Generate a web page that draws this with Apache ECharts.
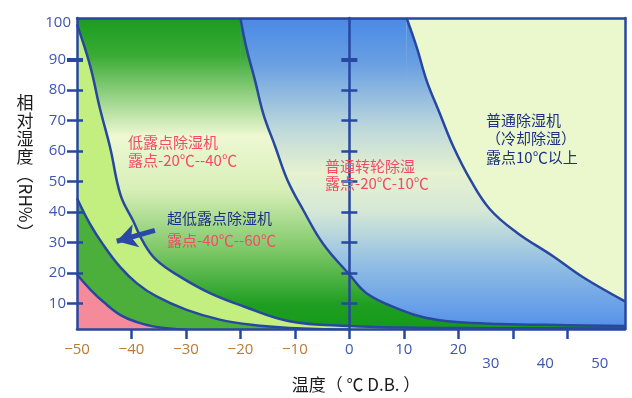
<!DOCTYPE html>
<html>
<head>
<meta charset="utf-8">
<script src="https://cdn.jsdelivr.net/npm/echarts@6/dist/echarts.min.js"></script>
<style>
  html, body { margin: 0; padding: 0; background: #fff; }
  #chart { width: 632px; height: 398px; }
</style>
</head>
<body>
<div id="chart"></div>
<script>
// 坐标范围
const X_MIN = -50, X_MAX = 50.6;
const Y_MIN = 1.6, Y_MAX = 103.6;

// 刻度
const X_LABELS = [-50, -40, -30, -20, -10, 0, 10, 20, 30, 40, 50];
const X_TICKS = [-40, -30, -20, -10, 0, 10, 20, 30, 40];
const Y_LABELS = [10, 20, 30, 40, 50, 60, 70, 80, 90, 100];
const Y_TICKS = [10, 20, 30, 40, 50, 60, 70, 80];
const Y_BOLD = [90];

// 各区域边界曲线 [温度, 相对湿度]
const CURVE_PINK = [[-50, 19.5], [-47.5, 14.5], [-45, 10.3], [-42, 6.2], [-39, 3.9], [-36, 2.5], [-33, 1.8], [-30, 1.4]];
const CURVE_DARK = [[-50, 44.5], [-47.6, 36], [-45.2, 29.3], [-42.1, 22], [-39, 16.6], [-35.4, 12.3], [-30, 8], [-23.8, 4.7], [-18, 3.0], [-11, 2.0], [0, 1.4]];
const CURVE_LIGHT = [[-50, 101.5], [-47.6, 88], [-45.8, 74], [-43.9, 61], [-42, 45.5], [-39.7, 37.1], [-37.8, 30], [-35.4, 24.2], [-31.1, 18.8], [-25.6, 13.4], [-19.5, 9.1], [-11, 4.2], [0, 2.6], [10, 2.1], [25, 1.9], [50.6, 1.8]];
const CURVE_GREEN = [[-20, 103.6], [-18.9, 93.8], [-17.3, 83], [-15.8, 72.2], [-13.6, 61.4], [-11.4, 50.6], [-8.4, 40.4], [-4.8, 29.5], [0, 19.5], [3.2, 13.3], [9.3, 8], [14, 5.3], [19.7, 3.9], [27.6, 3.3], [40, 2.9], [50.6, 2.6]];
const CURVE_BLUE = [[10.5, 103.6], [12.4, 93.8], [14.2, 83], [16.6, 72.3], [19.1, 61.4], [22.2, 50.6], [25.8, 40.9], [30.7, 33.3], [37.4, 25.5], [42.9, 18.6], [50.6, 10.7]];

// 箭头（超低露点）
const ARROW = [[-35.7, 34], [-42.7, 30.4]];

const LINE = '#2747a0';
const RED = '#f44a6a';
const NAVY = '#1d3082';
const CJK = '"Noto Sans CJK SC"';

const grad = stops => new echarts.graphic.LinearGradient(0, 0, 0, 1,
  stops.map(s => ({ offset: s[0], color: s[1] })));

const BLUE_FILL = grad([[0, '#4a89e6'], [0.15, '#6aa0e2'], [0.35, '#bcd7dc'], [0.5, '#e6f2d0'], [0.62, '#d5e8d6'], [0.8, '#8ebce4'], [1, '#5490ea']]);
const GREEN_FILL = grad([[0, '#1a9c1f'], [0.12, '#3aab35'], [0.38, '#eef8d2'], [0.55, '#d8efb8'], [0.75, '#7cc766'], [0.92, '#1f9e22'], [1, '#159a18']]);

function region(name, data, color) {
  return {
    name, type: 'line', data,
    smooth: 0.4,
    showSymbol: false, symbol: 'none', clip: true, silent: true,
    lineStyle: { color: LINE, width: 2.5 },
    areaStyle: { color, opacity: 1, origin: 'start' }
  };
}

// 曲线左侧到顶边的部分（不描边，稍微伸进曲线下方以免接缝）
function topBlock(name, curve, color) {
  const x0 = curve[0][0];
  return {
    name, type: 'line', data: [[X_MIN, Y_MAX], [x0, Y_MAX], [x0 + 0.4, Y_MIN]],
    showSymbol: false, symbol: 'none', clip: true, silent: true,
    lineStyle: { width: 0 },
    areaStyle: { color, opacity: 1, origin: 'start' }
  };
}

// 纵轴刻度（左边框和 0℃ 轴两侧）
function tickAxis(onZero, inside, length, values, width) {
  return {
    type: 'value', min: Y_MIN, max: Y_MAX, position: 'left', z: 10,
    axisLine: onZero ? { show: false, onZero: true, onZeroAxisIndex: 0 } : { show: false, onZero: false },
    axisTick: { show: true, inside, length, customValues: values, lineStyle: { color: LINE, width } },
    axisLabel: { show: false },
    splitLine: { show: false }
  };
}

const chart = echarts.init(document.getElementById('chart'));
chart.setOption({
  animation: false,
  textStyle: { fontFamily: '"Open Sans", sans-serif' },
  grid: { left: 77, right: 7, top: 18, bottom: 65, show: true, backgroundColor: '#ebf7cd', borderWidth: 0 },
  xAxis: [{
    type: 'value', min: X_MIN, max: X_MAX, position: 'bottom', z: 10,
    axisLine: { onZero: false, lineStyle: { color: LINE, width: 2.5 } },
    axisTick: { show: true, length: 10, customValues: X_TICKS, lineStyle: { color: LINE, width: 2.5 } },
    splitLine: { show: false },
    axisLabel: {
      customValues: X_LABELS, margin: 13,
      formatter: v => v < 0 ? '{n|−' + Math.abs(v) + '}' : (v >= 30 ? '{f|' + v + '}' : '{p|' + v + '}'),
      rich: {
        n: { color: '#b67a38', fontSize: 15, fontFamily: '"Open Sans"' },
        p: { color: '#3d56b0', fontSize: 15, fontFamily: '"Open Sans"' },
        f: { color: '#3d56b0', fontSize: 15, fontFamily: '"Open Sans"', padding: [14, 44, 0, 0] }
      }
    },
    name: '温度（ ℃ D.B. ）', nameLocation: 'middle', nameGap: 38,
    nameTextStyle: { color: '#1a1a1a', fontSize: 17, fontFamily: CJK, padding: [0, 0, 0, 10] }
  }, {
    type: 'value', min: X_MIN, max: X_MAX, position: 'top', z: 10,
    axisLine: { onZero: false, lineStyle: { color: LINE, width: 2.5 } },
    axisTick: { show: false }, axisLabel: { show: false }, splitLine: { show: false }
  }],
  yAxis: [{
    type: 'value', min: Y_MIN, max: Y_MAX, position: 'left', z: 10,
    axisLine: { show: true, onZero: false, lineStyle: { color: LINE, width: 2.5 } },
    axisTick: { show: true, length: 10, customValues: Y_TICKS, lineStyle: { color: LINE, width: 2.5 } },
    splitLine: { show: false },
    axisLabel: {
      customValues: Y_LABELS, margin: 6,
      formatter: v => v === 100 ? '{t|100}' : '{n|' + v + '}',
      rich: {
        n: { color: '#3d56b0', fontSize: 15, fontFamily: '"Open Sans"', padding: [0, 5, 0, 0] },
        t: { color: '#3d56b0', fontSize: 15, fontFamily: '"Open Sans"', padding: [0, 0, 12, 0] }
      }
    }
  },
  tickAxis(false, true, 6, Y_TICKS, 2.5),
  tickAxis(false, false, 10, Y_BOLD, 4),
  tickAxis(false, true, 6, Y_BOLD, 4),
  {
    type: 'value', min: Y_MIN, max: Y_MAX, position: 'left', z: 10,
    axisLine: { show: true, onZero: true, onZeroAxisIndex: 0, lineStyle: { color: LINE, width: 2.5 } },
    axisTick: { show: true, length: 8, customValues: Y_TICKS, lineStyle: { color: LINE, width: 2.5 } },
    axisLabel: { show: false }, splitLine: { show: false }
  },
  tickAxis(true, true, 8, Y_TICKS, 2.5),
  tickAxis(true, false, 8, Y_BOLD, 4),
  tickAxis(true, true, 8, Y_BOLD, 4),
  {
    type: 'value', min: Y_MIN, max: Y_MAX, position: 'right', z: 10,
    axisLine: { show: true, onZero: false, lineStyle: { color: LINE, width: 2.5 } },
    axisTick: { show: false }, axisLabel: { show: false }, splitLine: { show: false }
  }],
  series: [
    topBlock('普通转轮除湿-上', CURVE_BLUE, BLUE_FILL),
    region('普通转轮除湿', CURVE_BLUE, BLUE_FILL),
    topBlock('低露点除湿机-上', CURVE_GREEN, GREEN_FILL),
    region('低露点除湿机', CURVE_GREEN, GREEN_FILL),
    region('超低露点除湿机', CURVE_LIGHT, '#c3ef80'),
    region('超低露点除湿机2', CURVE_DARK, '#4caf3c'),
    region('极低露点', CURVE_PINK, '#f58a9a'),
    {
      name: 'arrow', type: 'line', data: [], silent: true,
      markLine: {
        silent: true, animation: false,
        symbol: ['none', 'arrow'], symbolSize: [18, 20],
        label: { show: false },
        lineStyle: { color: '#2a48a8', width: 5, type: 'solid' },
        data: [[{ coord: ARROW[0] }, { coord: ARROW[1] }]]
      }
    }
  ],
  graphic: [
    { type: 'text', x: 25, y: 94, style: { text: '相\n对\n湿\n度\n︵', font: '17px ' + CJK, lineHeight: 18, align: 'center', verticalAlign: 'top', fill: '#1a1a1a' } },
    { type: 'text', x: 25, y: 203, rotation: -Math.PI / 2, style: { text: 'RH%', font: '17px ' + CJK, align: 'center', verticalAlign: 'middle', fill: '#1a1a1a' } },
    { type: 'text', x: 25, y: 233, style: { text: '︶', font: '17px ' + CJK, align: 'center', verticalAlign: 'middle', fill: '#1a1a1a' } },
    { type: 'text', x: 128, y: 133, z: 20, style: { text: '低露点除湿机\n露点-20℃--40℃', font: '15px ' + CJK, lineHeight: 18, fill: RED } },
    { type: 'text', x: 167, y: 207, z: 20, style: {
      text: '{a|超低露点除湿机}\n{b|露点-40℃--60℃}', font: '15px ' + CJK,
      rich: { a: { fill: NAVY, lineHeight: 22, font: '15px ' + CJK }, b: { fill: RED, lineHeight: 22, font: '15px ' + CJK } } } },
    { type: 'text', x: 325, y: 158, z: 20, style: { text: '普通转轮除湿\n露点-20℃-10℃', font: '15px ' + CJK, lineHeight: 17, fill: RED } },
    { type: 'text', x: 486, y: 111, z: 20, style: { text: '普通除湿机\n（冷却除湿）\n露点10℃以上', font: '15px ' + CJK, lineHeight: 18.5, fill: NAVY } }
  ]
});
</script>
</body>
</html>
